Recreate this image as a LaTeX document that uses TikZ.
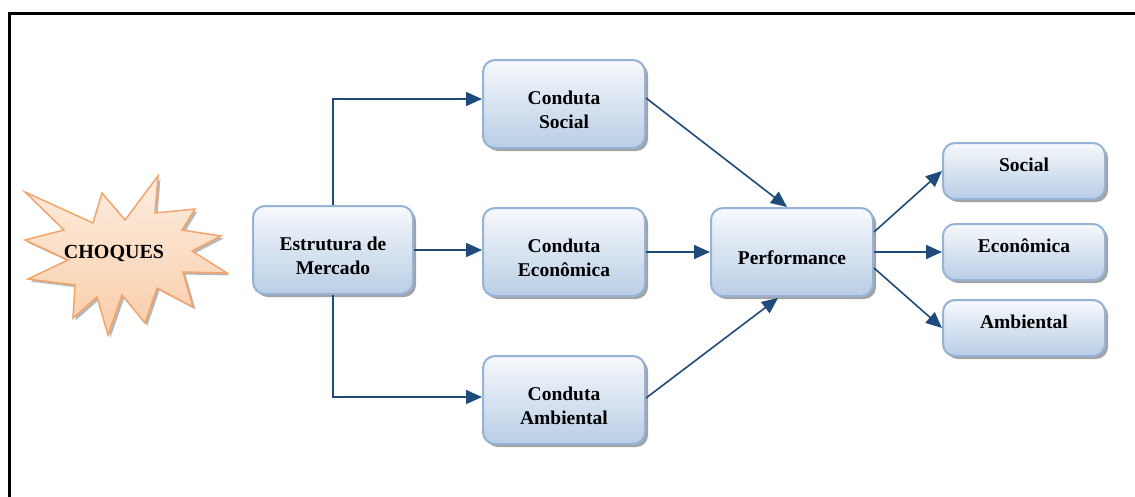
\documentclass[tikz,border=0pt]{standalone}
\usepackage{fontspec}
\setmainfont{Liberation Serif}
\usetikzlibrary{arrows.meta,shadows}

\definecolor{boxedge}{HTML}{95B3D7}
\definecolor{boxtop}{HTML}{F7F9FC}
\definecolor{boxbot}{HTML}{B9CDE5}
\definecolor{arrowblue}{HTML}{1F4A7C}
\definecolor{staredge}{HTML}{F4A46A}
\definecolor{startop}{HTML}{FDEDE0}
\definecolor{starbot}{HTML}{FACDA8}

% tall strut: lowers the text block slightly inside the boxes
\newcommand{\lowstrut}{\rule{0pt}{25.5pt}}

\tikzset{
  stage/.style={rectangle, rounded corners=12pt, draw=boxedge, line width=2pt,
    top color=boxtop, bottom color=boxbot,
    drop shadow={shadow xshift=3pt, shadow yshift=-3pt, fill=black!45, opacity=0.8},
    minimum width=162pt, minimum height=88pt, align=center,
    font=\fontsize{19.5}{24}\selectfont\bfseries, inner sep=2pt},
  result/.style={stage, minimum height=56pt, text height=13pt, text depth=12pt},
  link/.style={draw=arrowblue, line width=1.6pt,
    -{Triangle[length=16pt,width=14pt]}},
}

\begin{document}
\begin{tikzpicture}[x=1pt,y=-1pt]
  \useasboundingbox (0,0) rectangle (1135,496);
  \fill[white] (0,0) rectangle (1135,496);

  % outer frame (top and left edges)
  \draw[line width=3pt, line cap=rect] (9.5,496) -- (9.5,13.5) -- (1135,13.5);

  % the shock burst
  \filldraw[draw=staredge, line width=1.5pt, top color=startop, bottom color=starbot,
    drop shadow={shadow xshift=2.5pt, shadow yshift=-2.5pt, fill=black!40, opacity=0.7}]
    (25,192) -- (93,223) -- (102,193) -- (125,220) -- (158,176) -- (155,213)
    -- (195,209) -- (182,230) -- (221,236) -- (192,251) -- (227,273) -- (183,272)
    -- (193,307) -- (157,288) -- (145,323) -- (122,295) -- (108,335) -- (97,297)
    -- (73,318) -- (75,285) -- (28,279) -- (68,260) -- (25,240) -- (64,230) -- cycle;
  \node[font=\fontsize{20}{22}\selectfont\bfseries] (choques) at (114,253) {CHOQUES};

  % structure, conduct and performance boxes
  \node[stage, minimum width=160pt] (est) at (333,250) {\lowstrut Estrutura de\\Mercado};
  \node[stage] (cs) at (564,104) {\lowstrut Conduta\\Social};
  \node[stage] (ce) at (564,252) {\lowstrut Conduta\\Econômica};
  \node[stage] (ca) at (564,400) {\lowstrut Conduta\\Ambiental};
  \node[stage] (perf) at (792,252) {\lowstrut Performance};

  % performance dimensions
  \node[result] (rs) at (1024,171) {Social};
  \node[result] (re) at (1024,252) {Econômica};
  \node[result] (ra) at (1024,328) {Ambiental};

  % connectors
  \draw[link] (est.north) |- ([yshift=5pt]cs.west);
  \draw[link] (est.east) -- (est.east -| ce.west);
  \draw[link] (est.south) |- ([yshift=3pt]ca.west);
  \draw[link] ([yshift=6pt]cs.east) -- ([xshift=-5pt]perf.north);
  \draw[link] (ce.east) -- (perf.west);
  \draw[link] ([yshift=2pt]ca.east) -- ([xshift=-14pt,yshift=-1pt]perf.south);
  \draw[link] ([yshift=20pt]perf.east) -- (rs.west);
  \draw[link] (perf.east) -- (re.west);
  \draw[link] ([yshift=-16pt]perf.east) -- (ra.west);
\end{tikzpicture}
\end{document}
